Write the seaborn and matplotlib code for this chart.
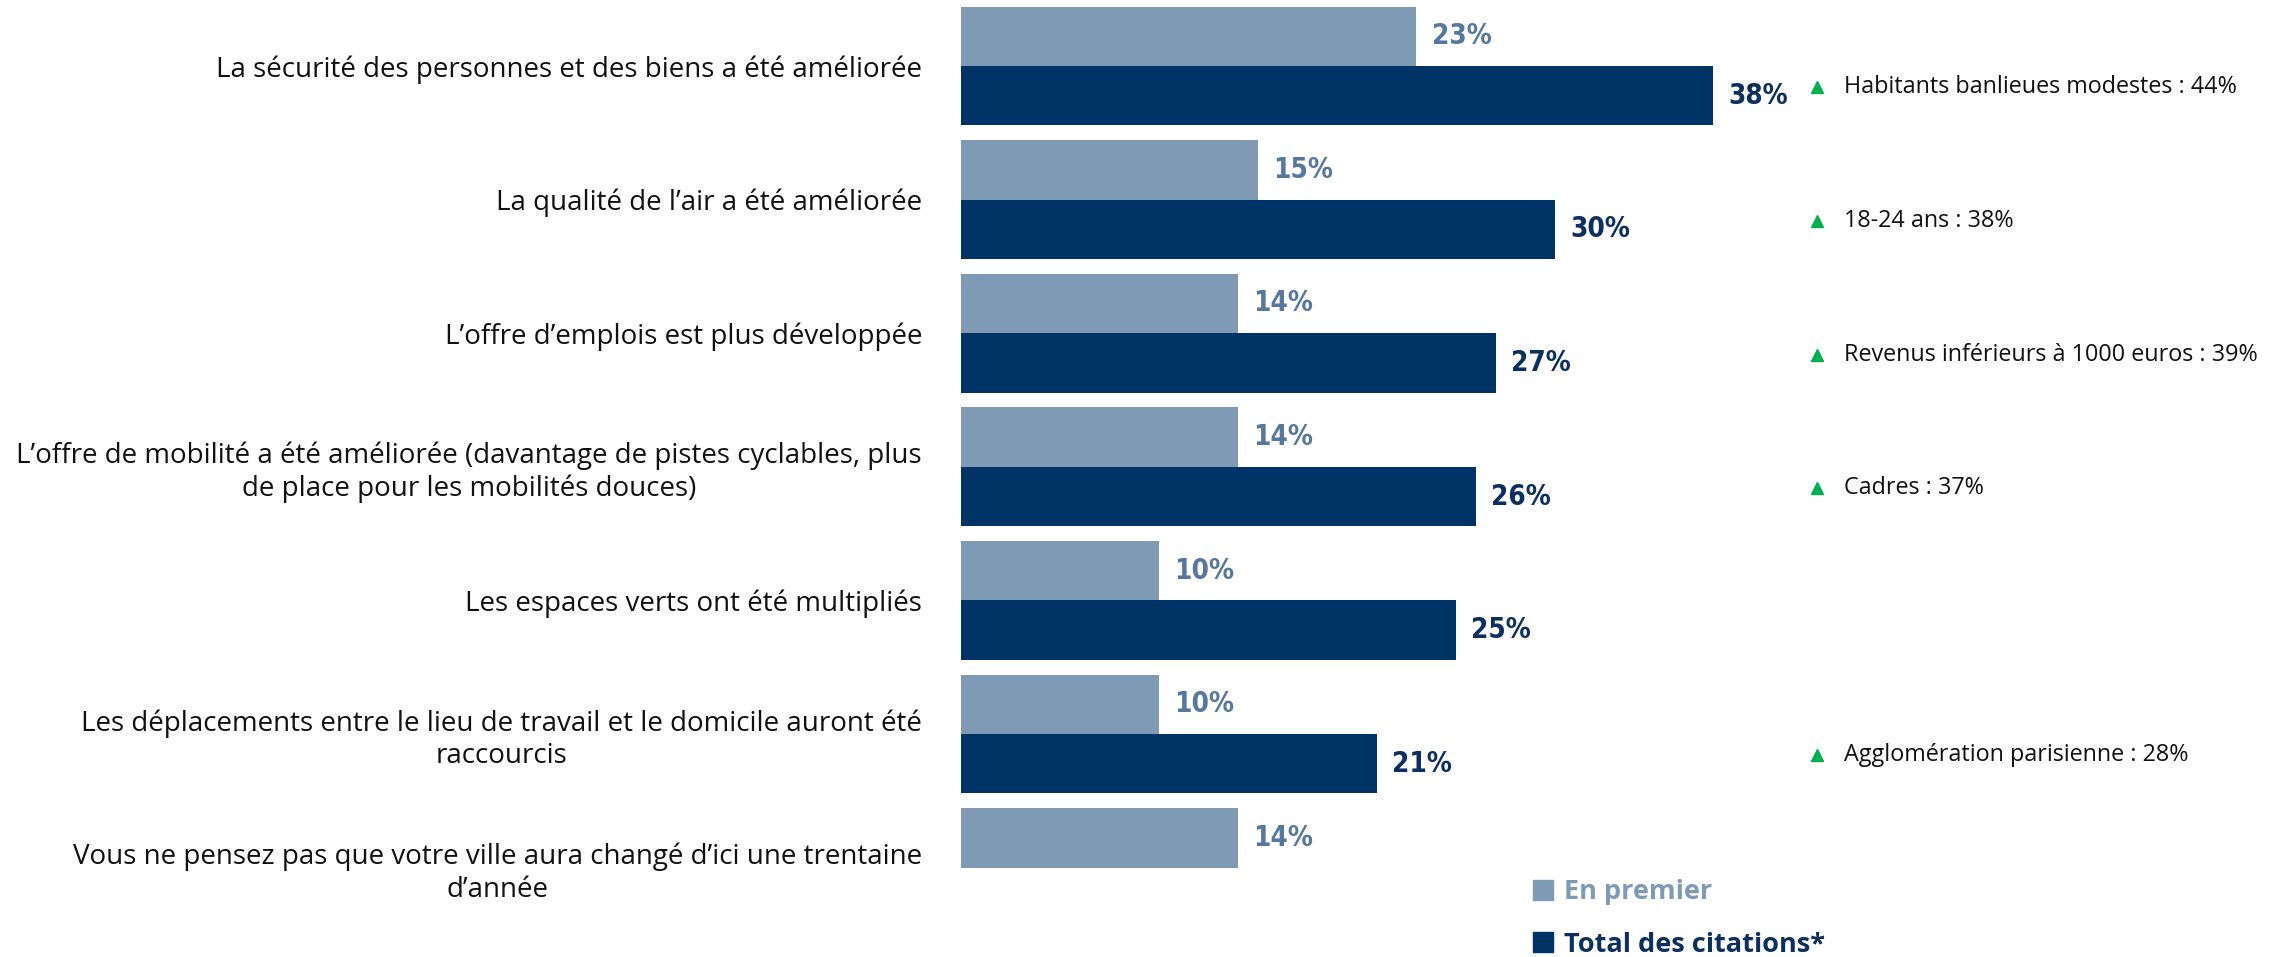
import matplotlib
matplotlib.use("Agg")
import matplotlib.pyplot as plt
import matplotlib.transforms as mtransforms
from matplotlib.lines import Line2D
import seaborn as sns
import pandas as pd

categories = [
    "La sécurité des personnes et des biens a été améliorée",
    "La qualité de l’air a été améliorée",
    "L’offre d’emplois est plus développée",
    "L’offre de mobilité a été améliorée (davantage de pistes cyclables, plus\nde place pour les mobilités douces)",
    "Les espaces verts ont été multipliés",
    "Les déplacements entre le lieu de travail et le domicile auront été\nraccourcis",
    "Vous ne pensez pas que votre ville aura changé d’ici une trentaine\nd’année",
]
en_premier = [23, 15, 14, 14, 10, 10, 14]
total_citations = [38, 30, 27, 26, 25, 21, None]
series_names = ["En premier", "Total des citations*"]
annotations = [
    "Habitants banlieues modestes : 44%",
    "18-24 ans : 38%",
    "Revenus inférieurs à 1000 euros : 39%",
    "Cadres : 37%",
    None,
    "Agglomération parisienne : 28%",
    None,
]

light = "#7F9AB5"
dark = "#003366"
light_txt = "#56789F"
dark_txt = "#0B2F5E"

rows = []
for c, a, b in zip(categories, en_premier, total_citations):
    rows.append({"cat": c, "serie": series_names[0], "val": a})
    if b is not None:
        rows.append({"cat": c, "serie": series_names[1], "val": b})
df = pd.DataFrame(rows)

sns.set_theme(style="white")
plt.rcParams["font.family"] = ["Open Sans", "DejaVu Sans"]

W, H = 2277, 957
fig = plt.figure(figsize=(W / 100, H / 100), dpi=100)
left_px, px_per = 961, 19.8
xmax = 50
ax = fig.add_axes([left_px / W, 0, xmax * px_per / W, 1])

sns.barplot(data=df, y="cat", x="val", hue="serie", order=categories,
            hue_order=series_names, palette=[light, dark], width=0.89,
            orient="h", ax=ax, legend=False, saturation=1, linewidth=0)

ax.set_xlim(0, xmax)
ax.set_ylim(6.669, -0.494)
ax.set_xlabel("")
ax.set_ylabel("")
ax.set_xticks([])
for s in ax.spines.values():
    s.set_visible(False)
ax.tick_params(axis="y", length=0, pad=28)
ax.set_yticks(range(len(categories)))
ax.set_yticklabels(categories, fontsize=20, multialignment="center", color="#111111")

vfont = dict(family=["DejaVu Sans"], stretch="condensed", weight="bold", size=20)
for cont, col in zip(ax.containers, [light_txt, dark_txt]):
    ax.bar_label(cont, fmt="{:.0f}%", padding=11, color=col, **vfont)

# annotations to the right
tr = mtransforms.blended_transform_factory(fig.transFigure, ax.transData)
for i, t in enumerate(annotations):
    if t is None:
        continue
    y = i + 0.16
    ax.plot([1817 / W], [y], marker="^", color="#00B050", markersize=9,
            transform=tr, clip_on=False, linestyle="none")
    ax.text(1844 / W, y, t, transform=tr, fontsize=16.8, va="center", ha="left",
            color="#111111")

handles = [Line2D([], [], marker="s", linestyle="none", color=light, markersize=15),
           Line2D([], [], marker="s", linestyle="none", color=dark, markersize=15)]
leg = fig.legend(handles, series_names, loc="upper left",
                 bbox_to_anchor=(1508 / W, 1 - 855 / H), frameon=False,
                 handlelength=0.8, handletextpad=0.35, labelspacing=0.98,
                 prop=dict(family=["Open Sans", "DejaVu Sans"], weight="bold", size=19.5),
                 labelcolor=[light, dark_txt])

fig.savefig("out.png", dpi=100)
